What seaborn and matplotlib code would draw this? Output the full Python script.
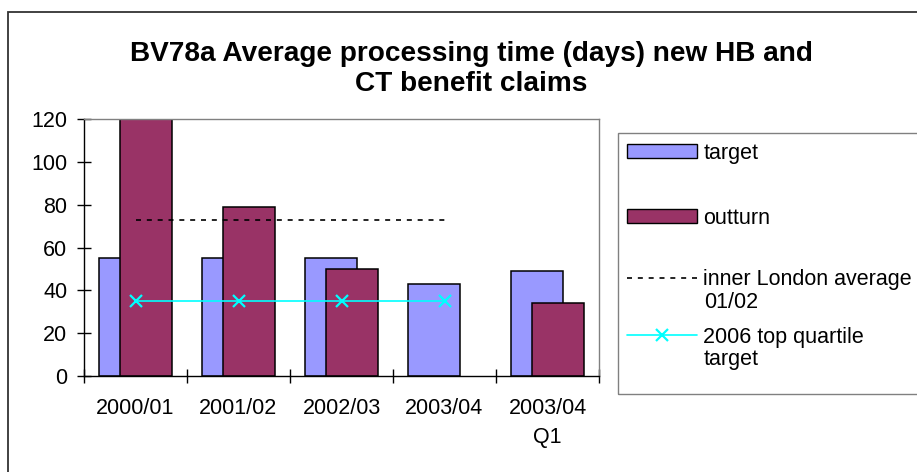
import numpy as np
import pandas as pd
import seaborn as sns
import matplotlib.pyplot as plt
from matplotlib.patches import Patch, Rectangle
from matplotlib.lines import Line2D
from matplotlib.ticker import FixedLocator, NullFormatter

periods = ["2000/01", "2001/02", "2002/03", "2003/04", "2003/04\nQ1"]
target = [55, 55, 55, 43, 49]
outturn = [120, 79, 50, np.nan, 34]
london_avg = [73, 73, 73, 73]
top_quartile = [35, 35, 35, 35]

sns.set_theme(style="white")
plt.rcParams["font.family"] = ["Liberation Sans", "DejaVu Sans"]
plt.rcParams["text.color"] = "black"
plt.rcParams["xtick.color"] = "black"
plt.rcParams["ytick.color"] = "black"

df = pd.DataFrame({
    "period": periods * 2,
    "days": target + outturn,
    "series": ["target"] * 5 + ["outturn"] * 5,
})

fig = plt.figure(figsize=(9.17, 4.72), dpi=100)
ax = fig.add_axes([84 / 917, 96 / 472, 515 / 917, 257 / 472])

bar_cols = {"target": "#9999FF", "outturn": "#993366"}
sns.barplot(data=df, x="period", y="days", hue="series", order=periods,
            hue_order=["target", "outturn"], palette=bar_cols, dodge=False,
            width=0.5, saturation=1, edgecolor="black", linewidth=1.1,
            legend=False, ax=ax)
# Excel-style overlapping bars
for cont, shift in zip(ax.containers, [-0.1, 0.1]):
    for p in cont:
        p.set_x(p.get_x() + shift)

sns.lineplot(x=range(len(london_avg)), y=london_avg, color="black",
             linewidth=1.2, linestyle=(0, (3, 3.5)), ax=ax)
sns.lineplot(x=range(len(top_quartile)), y=top_quartile, color="#00FFFF",
             linewidth=1.2, marker="x", markersize=9, markeredgewidth=1.6,
             markeredgecolor="#00FFFF", ax=ax)

ax.set_xlim(-0.5, 4.5)
ax.set_ylim(0, 120)
ax.set_yticks(range(0, 121, 20))
ax.set_xlabel("")
ax.set_ylabel("")

ax.xaxis.set_major_locator(FixedLocator(np.arange(-0.5, 5, 1)))
ax.xaxis.set_major_formatter(NullFormatter())
ax.xaxis.set_minor_locator(FixedLocator(range(5)))
ax.set_xticklabels(periods, minor=True)
for t in ax.get_xticklabels(minor=True):
    t.set_linespacing(1.5)
ax.tick_params(axis="x", which="major", direction="inout", length=10,
               width=1, color="black", bottom=True)
ax.tick_params(axis="x", which="minor", length=0, pad=16, labelsize=15.5,
               bottom=True)
ax.tick_params(axis="y", direction="inout", length=10, width=1,
               color="black", pad=7, labelsize=15.5, left=True)

for s in ["left", "bottom"]:
    ax.spines[s].set_color("black")
    ax.spines[s].set_linewidth(1)
for s in ["top", "right"]:
    ax.spines[s].set_color("#808080")
    ax.spines[s].set_linewidth(1)

fig.text(471 / 917, (472 - 91) / 472,
         "BV78a Average processing time (days) new HB and\nCT benefit claims",
         ha="center", va="baseline", fontsize=20.2, fontweight="bold",
         linespacing=1.2, color="black")

# legend: one entry per row, placed like Excel spreads them;
# wrapped labels continue on a second line under the text
handles = [
    Patch(facecolor=bar_cols["target"], edgecolor="black", linewidth=1),
    Patch(facecolor=bar_cols["outturn"], edgecolor="black", linewidth=1),
    Line2D([], [], color="black", linewidth=1.2, linestyle=(0, (3, 3.5))),
    Line2D([], [], color="#00FFFF", linewidth=1.2, marker="x",
           markersize=9, markeredgewidth=1.6),
]
labels = ["target", "outturn", "inner London average", "2006 top quartile"]
label_cont = ["", "", "01/02", "target"]
rows_y = [153, 218, 280, 337]
for h, lab, cont, yy in zip(handles, labels, label_cont, rows_y):
    fig.legend([h], [lab], loc="center left",
               bbox_to_anchor=(618 / 917, 1 - yy / 472),
               fontsize=15.5, frameon=False, borderpad=0.42,
               handlelength=3.26, handleheight=0.6, handletextpad=0.28,
               borderaxespad=0)
    if cont:
        fig.text(704 / 917, 1 - (yy + 23) / 472, cont, fontsize=15.5,
                 ha="left", va="center", color="black")

fig.patches.append(Rectangle((618 / 917, 1 - 394 / 472), 0.5,
                             (394 - 133) / 472, transform=fig.transFigure,
                             fill=False, edgecolor="#808080", linewidth=1))

# outer chart-area frame
fig.patches.append(Rectangle((8 / 917, -0.05), 1.1, (472 - 12) / 472 + 0.05,
                             transform=fig.transFigure, fill=False,
                             edgecolor="#333333", linewidth=1.3))

fig.savefig("out.png", dpi=100)
